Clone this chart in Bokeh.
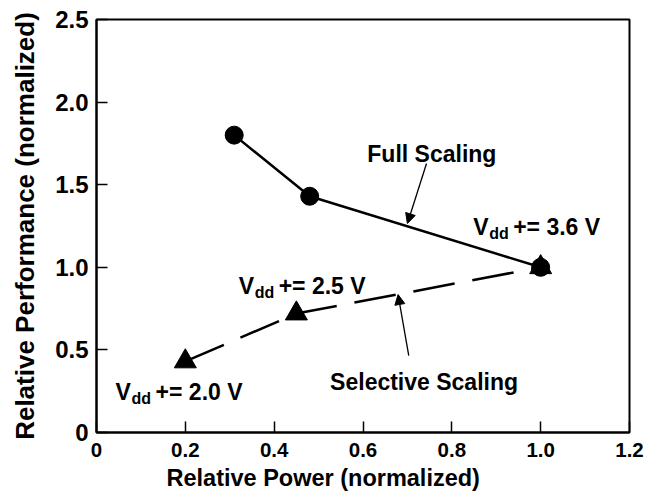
from bokeh.plotting import figure
from bokeh.models import Range1d, FixedTicker, Label, Arrow, NormalHead, Title
from bokeh.embed import file_html
from bokeh.resources import INLINE

# ---- data ----
full_power = [0.31, 0.48, 1.0]
full_perf = [1.80, 1.43, 1.0]
sel_power = [0.20, 0.45, 1.0]
sel_perf = [0.43, 0.72, 1.0]
x_ticks = [0, 0.2, 0.4, 0.6, 0.8, 1.0, 1.2]
x_tick_labels = ["0", "0.2", "0.4", "0.6", "0.8", "1.0", "1.2"]
y_ticks = [0, 0.5, 1.0, 1.5, 2.0, 2.5]
y_tick_labels = ["0", "0.5", "1.0", "1.5", "2.0", "2.5"]
vdd_values = ["3.6", "2.5", "2.0"]
x_title = "Relative Power (normalized)"
y_title = "Relative Performance (normalized)"

FONT = "Liberation Sans"

p = figure(width=662, height=502, output_backend="svg", toolbar_location=None,
           x_range=Range1d(0, 1.2), y_range=Range1d(0, 2.5),
           min_border_left=96, min_border_right=33, min_border_top=19, min_border_bottom=70)
p.grid.visible = False
p.outline_line_color = "black"
p.outline_line_width = 2
p.background_fill_color = "white"
p.border_fill_color = "white"

p.xaxis.ticker = FixedTicker(ticks=x_ticks)
p.yaxis.ticker = FixedTicker(ticks=y_ticks)
p.xaxis.major_label_overrides = {t: l for t, l in zip(x_ticks, x_tick_labels)}
p.yaxis.major_label_overrides = {t: l for t, l in zip(y_ticks, y_tick_labels)}

for ax in (p.xaxis, p.yaxis):
    ax.axis_line_color = "black"
    ax.axis_line_width = 2
    ax.major_tick_in = 11
    ax.major_tick_out = 0
    ax.major_tick_line_width = 1.5
    ax.major_tick_line_color = "black"
    ax.minor_tick_line_color = None
    ax.major_label_text_font = FONT
    ax.major_label_text_font_style = "bold"
    ax.major_label_text_color = "black"
    ax.axis_label_text_font = FONT
    ax.axis_label_text_font_style = "bold"
    ax.axis_label_text_color = "black"

p.xaxis.major_label_text_font_size = "20.5px"
p.yaxis.major_label_text_font_size = "24px"
p.yaxis.axis_label = y_title
p.yaxis.axis_label_text_font_size = "26px"
p.xaxis.major_label_standoff = 10
p.yaxis.major_label_standoff = 8
p.yaxis.axis_label_standoff = 12

# x axis title, placed below the axis and shifted left like the original
p.add_layout(Title(text=x_title, align="left", offset=70, standoff=7,
                   text_font=FONT, text_font_style="bold", text_font_size="23.5px",
                   text_color="black"), "below")

# ---- data marks ----
p.line(sel_power, sel_perf, line_color="black", line_width=2.5, line_dash="42 18")
p.scatter(sel_power, sel_perf, marker="triangle", size=22, fill_color="black", line_color="black")
p.line(full_power, full_perf, line_color="black", line_width=2.5)
p.scatter(full_power, full_perf, marker="circle", size=18, fill_color="black", line_color="black")

# ---- annotations ----
common = dict(text_font=FONT, text_font_style="bold", text_color="black",
              text_baseline="alphabetic")

p.add_layout(Label(x=0.755, y=1.687, text="Full Scaling", text_font_size="23px",
                   text_align="center", **common))
p.add_layout(Label(x=0.7375, y=0.304, text="Selective Scaling", text_font_size="23px",
                   text_align="center", **common))

def vdd_label(x, y, volts):
    p.add_layout(Label(x=x, y=y, text="V", text_font_size="23px", text_align="left", **common))
    p.add_layout(Label(x=x, y=y, text="dd", text_font_size="16px", text_align="left",
                       x_offset=16, y_offset=-6, **common))
    p.add_layout(Label(x=x, y=y, text="+= " + volts + " V", text_font_size="23px",
                       text_align="left", x_offset=40, **common))

vdd_label(0.848, 1.243, vdd_values[0])
vdd_label(0.320, 0.886, vdd_values[1])
vdd_label(0.043, 0.244, vdd_values[2])

def head():
    return NormalHead(size=10, fill_color="black", line_color="black", line_width=1)

p.add_layout(Arrow(end=head(), x_start=0.743, y_start=1.628, x_end=0.700, y_end=1.265,
                   line_color="black", line_width=1.3))
p.add_layout(Arrow(end=head(), x_start=0.703, y_start=0.466, x_end=0.679, y_end=0.835,
                   line_color="black", line_width=1.3))

open("out.html", "w").write(file_html(p, INLINE))
